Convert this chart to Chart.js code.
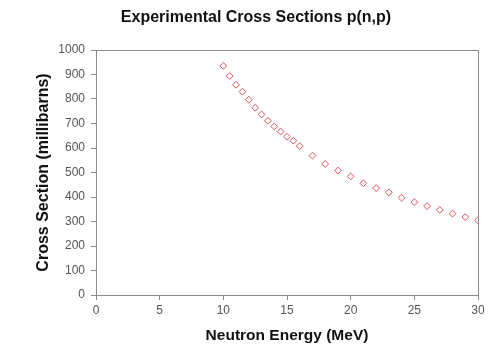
<!DOCTYPE html>
<html lang="en">
<head>
    <meta charset="utf-8">
    <script src="https://cdn.jsdelivr.net/npm/chart.js"></script>
    <style>
        html, body { margin: 0; padding: 0; background: #fff; }
        .chart-box { width: 500px; height: 354px; position: relative; }
    </style>
</head>
<body>
    <div class="chart-box">
        <canvas id="crossChart"></canvas>
    </div>

    <script>
        // neutron energy (MeV) and measured cross section (millibarns)
        const energy = [10, 10.5, 11, 11.5, 12, 12.5, 13, 13.5, 14, 14.5, 15, 15.5, 16,
                        17, 18, 19, 20, 21, 22, 23, 24, 25, 26, 27, 28, 29, 30];
        const crossSection = [935, 894, 858, 830, 797, 764, 737, 711, 688, 667, 646, 630, 608,
                              569, 535, 508, 484, 456, 436, 419, 397, 379, 363, 347, 332, 318, 305];
        const xTicks = [0, 5, 10, 15, 20, 25, 30];
        const yTicks = [0, 100, 200, 300, 400, 500, 600, 700, 800, 900, 1000];

        const points = energy.map((e, i) => ({ x: e, y: crossSection[i] }));
        const fontFamily = "'Liberation Sans', Arial, sans-serif";

        // top and right edges of the plot frame
        const frame = {
            id: 'frame',
            afterDraw(chart) {
                const a = chart.chartArea;
                const c = chart.ctx;
                c.save();
                c.strokeStyle = '#8a8a8a';
                c.lineWidth = 1;
                c.beginPath();
                c.moveTo(a.left, a.top + 0.5);
                c.lineTo(a.right + 0.5, a.top + 0.5);
                c.lineTo(a.right + 0.5, a.bottom);
                c.stroke();
                c.restore();
            }
        };

        new Chart(document.getElementById('crossChart'), {
            type: 'scatter',
            data: {
                datasets: [{
                    label: 'p(n,p)',
                    data: points,
                    pointStyle: 'rectRot',
                    pointRadius: 3.4,
                    borderWidth: 1,
                    borderColor: '#e0505a',
                    backgroundColor: '#ffffff'
                }]
            },
            options: {
                responsive: true,
                maintainAspectRatio: false,
                animation: false,
                layout: { padding: { left: 34, right: 22, top: 0, bottom: 0 } },
                plugins: {
                    legend: { display: false },
                    tooltip: { enabled: false },
                    title: {
                        display: true,
                        text: 'Experimental Cross Sections p(n,p)',
                        color: '#111',
                        font: { family: fontFamily, size: 16, weight: 'bold' },
                        padding: { top: 8, bottom: 22.8 }
                    }
                },
                scales: {
                    x: {
                        type: 'linear',
                        min: 0,
                        max: 30,
                        afterBuildTicks: s => { s.ticks = xTicks.map(v => ({ value: v })); },
                        afterFit: s => { s.height = 59; },
                        grid: { drawOnChartArea: false, drawTicks: true, tickLength: 5, color: '#8a8a8a' },
                        border: { color: '#8a8a8a' },
                        ticks: { color: '#555', padding: 3, font: { family: fontFamily, size: 12 } },
                        title: {
                            display: true,
                            text: 'Neutron Energy (MeV)',
                            color: '#111',
                            font: { family: fontFamily, size: 15.5, weight: 'bold' },
                            padding: { top: 4, bottom: 9 }
                        }
                    },
                    y: {
                        type: 'linear',
                        min: 0,
                        max: 1000,
                        afterBuildTicks: s => { s.ticks = yTicks.map(v => ({ value: v })); },
                        afterFit: s => { s.width = 62; },
                        grid: { drawOnChartArea: false, drawTicks: true, tickLength: 5, color: '#8a8a8a' },
                        border: { color: '#8a8a8a' },
                        ticks: {
                            color: '#555',
                            padding: 6,
                            font: { family: fontFamily, size: 12 },
                            callback: v => String(v)
                        },
                        title: {
                            display: true,
                            text: 'Cross Section (millibarns)',
                            color: '#111',
                            font: { family: fontFamily, size: 16, weight: 'bold' },
                            padding: { top: 0, bottom: 0 }
                        }
                    }
                }
            },
            plugins: [frame]
        });
    </script>
</body>
</html>
